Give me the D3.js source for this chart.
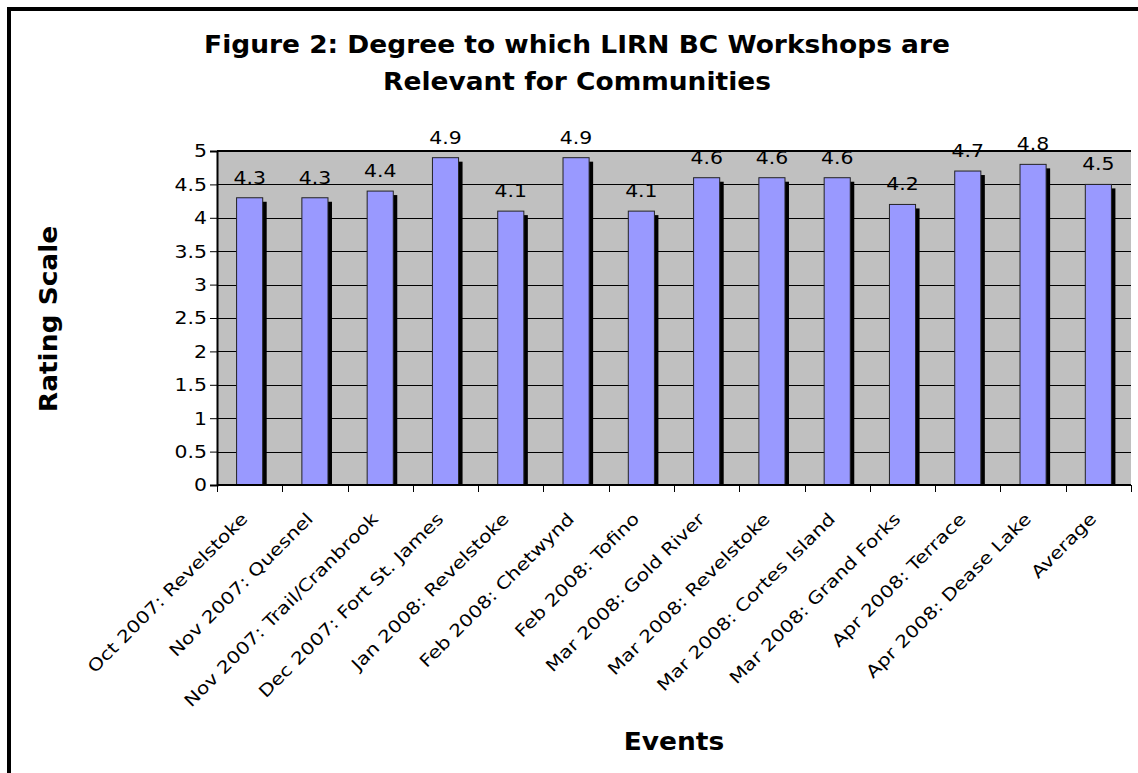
<!DOCTYPE html>
<html>
<head>
<meta charset="utf-8">
<script src="https://cdn.jsdelivr.net/npm/d3@7"></script>
<style>
  html, body { margin: 0; padding: 0; background: #fff; }
  svg { display: block; font-family: Verdana, "DejaVu Sans", sans-serif; }
</style>
</head>
<body>
<svg id="chart" width="1138" height="773"></svg>
<script>
// Workshop events and their average relevance ratings
const events = [
  "Oct 2007: Revelstoke",
  "Nov 2007: Quesnel",
  "Nov 2007: Trail/Cranbrook",
  "Dec 2007: Fort St. James",
  "Jan 2008: Revelstoke",
  "Feb 2008: Chetwynd",
  "Feb 2008: Tofino",
  "Mar 2008: Gold River",
  "Mar 2008: Revelstoke",
  "Mar 2008: Cortes Island",
  "Mar 2008: Grand Forks",
  "Apr 2008: Terrace",
  "Apr 2008: Dease Lake",
  "Average"
];
const ratings = [4.3, 4.3, 4.4, 4.9, 4.1, 4.9, 4.1, 4.6, 4.6, 4.6, 4.2, 4.7, 4.8, 4.5];
const yTicks = [0, 0.5, 1, 1.5, 2, 2.5, 3, 3.5, 4, 4.5, 5];

// Verdana-like wide lettering: regular and bold horizontal stretch
const REG_SIZE = 17, REG_SX = 1.2;
const BOLD_SIZE = 24.5, BOLD_SX = 1.08;

const svg = d3.select("#chart");

// Outer chart frame
svg.append("rect")
  .attr("x", 9).attr("y", 9)
  .attr("width", 1160).attr("height", 800)
  .attr("fill", "#fff")
  .attr("stroke", "#000").attr("stroke-width", 4);

const plot = { left: 217, right: 1131, top: 151, bottom: 485 };

const x = d3.scaleBand()
  .domain(events)
  .range([plot.left, plot.right])
  .paddingInner(0.6)
  .paddingOuter(0.3);

const y = d3.scaleLinear()
  .domain([0, 5])
  .range([plot.bottom, plot.top]);

// Plot background
svg.append("rect")
  .attr("x", plot.left).attr("y", plot.top)
  .attr("width", plot.right - plot.left)
  .attr("height", plot.bottom - plot.top)
  .attr("fill", "#C0C0C0");

// Horizontal gridlines
svg.append("g")
  .selectAll("line")
  .data(yTicks.slice(1))
  .join("line")
  .attr("x1", plot.left).attr("x2", plot.right)
  .attr("y1", d => Math.round(y(d)) + 0.5)
  .attr("y2", d => Math.round(y(d)) + 0.5)
  .attr("stroke", "#000").attr("stroke-width", 1);

// Bar shadows
const bw = x.bandwidth();
const shadow = 4;
svg.append("g")
  .selectAll("rect")
  .data(ratings)
  .join("rect")
  .attr("x", (d, i) => x(events[i]) + shadow)
  .attr("y", d => y(d) + shadow)
  .attr("width", bw)
  .attr("height", d => plot.bottom - y(d) - shadow)
  .attr("fill", "#000");

// Bars
svg.append("g")
  .selectAll("rect")
  .data(ratings)
  .join("rect")
  .attr("x", (d, i) => x(events[i]))
  .attr("y", d => y(d))
  .attr("width", bw)
  .attr("height", d => plot.bottom - y(d))
  .attr("fill", "#9999FF")
  .attr("stroke", "#222").attr("stroke-width", 1);

// Value labels
svg.append("g")
  .selectAll("text")
  .data(ratings)
  .join("text")
  .attr("transform", (d, i) =>
    `translate(${x(events[i]) + bw / 2},${y(d) - 14}) scale(${REG_SX},1)`)
  .attr("text-anchor", "middle")
  .attr("font-size", REG_SIZE)
  .attr("fill", "#000")
  .text(d => d3.format(".1f")(d));

// Top edge of the plot area
svg.append("line")
  .attr("x1", plot.left).attr("x2", plot.right)
  .attr("y1", plot.top).attr("y2", plot.top)
  .attr("stroke", "#000").attr("stroke-width", 2);

// Y axis
const yAxis = d3.axisLeft(y)
  .tickValues(yTicks)
  .tickFormat(d3.format("~g"))
  .tickSize(7);
const gy = svg.append("g")
  .attr("transform", `translate(${plot.left},0)`)
  .call(yAxis);
gy.select(".domain").attr("stroke", "#000").attr("stroke-width", 2);
gy.selectAll(".tick line").attr("stroke", "#000");
gy.selectAll(".tick text")
  .attr("x", null).attr("dy", null)
  .attr("transform", `translate(-10,0) scale(${REG_SX},1)`)
  .attr("dominant-baseline", "central")
  .attr("font-family", "Verdana, 'DejaVu Sans', sans-serif")
  .attr("font-size", REG_SIZE).attr("fill", "#000");

// X axis: ticks at category boundaries
const step = x.step();
const boundaries = d3.range(events.length + 1).map(i => plot.left + i * step);
const gx = svg.append("g");
gx.append("line")
  .attr("x1", plot.left).attr("x2", plot.right)
  .attr("y1", plot.bottom).attr("y2", plot.bottom)
  .attr("stroke", "#000").attr("stroke-width", 2);
gx.selectAll("line.tick")
  .data(boundaries)
  .join("line")
  .attr("class", "tick")
  .attr("x1", d => Math.round(d) + 0.5).attr("x2", d => Math.round(d) + 0.5)
  .attr("y1", plot.bottom).attr("y2", plot.bottom + 7)
  .attr("stroke", "#000");

// Category labels, rotated
gx.selectAll("text")
  .data(events)
  .join("text")
  .attr("transform", d =>
    `translate(${x(d) + bw / 2 - 1},${plot.bottom + 35}) rotate(-45) scale(${REG_SX},1)`)
  .attr("text-anchor", "end")
  .attr("font-size", REG_SIZE)
  .attr("fill", "#000")
  .text(d => d);

// Title
const titleLines = [
  "Figure 2: Degree to which LIRN BC Workshops are",
  "Relevant for Communities"
];
svg.append("g")
  .selectAll("text")
  .data(titleLines)
  .join("text")
  .attr("transform", (d, i) => `translate(577,${i ? 90 : 52.5}) scale(${BOLD_SX},1)`)
  .attr("text-anchor", "middle")
  .attr("font-size", BOLD_SIZE)
  .attr("font-weight", "bold")
  .attr("fill", "#000")
  .text(d => d);

// Axis titles
svg.append("text")
  .attr("transform", `translate(57,319) rotate(-90) scale(${BOLD_SX},1)`)
  .attr("text-anchor", "middle")
  .attr("font-size", BOLD_SIZE)
  .attr("font-weight", "bold")
  .text("Rating Scale");

svg.append("text")
  .attr("transform", `translate(674,750) scale(${BOLD_SX},1)`)
  .attr("text-anchor", "middle")
  .attr("font-size", BOLD_SIZE)
  .attr("font-weight", "bold")
  .text("Events");
</script>
</body>
</html>
